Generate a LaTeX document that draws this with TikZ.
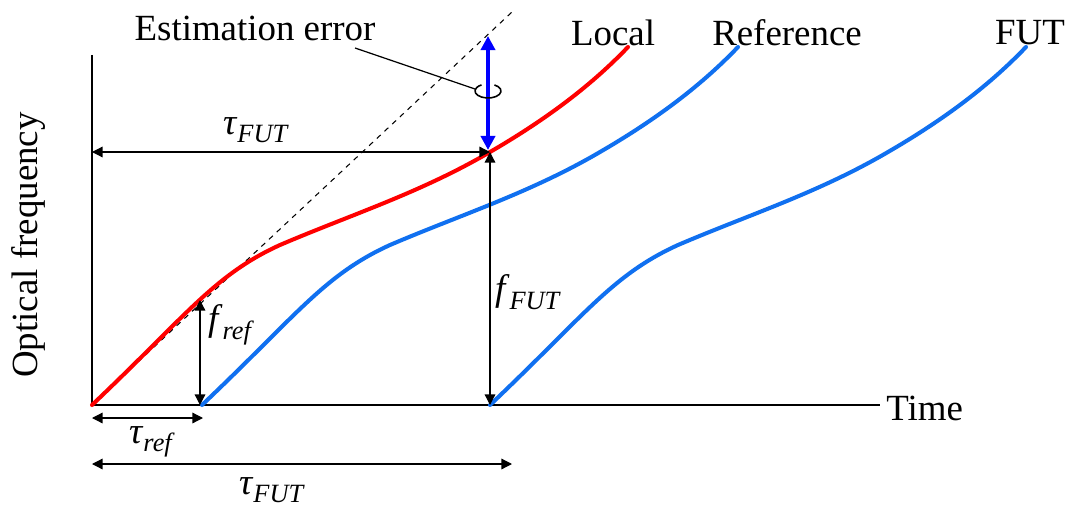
\documentclass[tikz,border=0pt]{standalone}
\usepackage{fontspec}
\setmainfont{Liberation Serif}
\usetikzlibrary{arrows.meta}
\definecolor{fred}{HTML}{FF0000}
\definecolor{fblue}{HTML}{1070F0}
\definecolor{ferr}{HTML}{0000FF}
\newcommand{\symsub}[2]{\textit{#1}\raisebox{-0.5ex}{\fontsize{15}{15}\selectfont\textit{#2}}}
% one sweep of the frequency, relative to its start
\newcommand{\sweep}{(0,0) .. controls (95,-90) and (122,-130) .. (188,-160)
  .. controls (258,-190) and (328,-212) .. (398,-253)
  .. controls (448,-282) and (496,-316) .. (536,-358)}

\begin{document}
\begin{tikzpicture}[x=0.02cm, y=-0.02cm, font=\fontsize{21}{25}\selectfont,
  axis/.style={line width=1.1pt},
  dim/.style={line width=0.7pt, {Triangle[length=6pt,width=6pt]}-{Triangle[length=6pt,width=6pt]}},
  curve/.style={line width=2.3pt, line cap=round},
  txt/.style={inner sep=0pt}]
\useasboundingbox (0,0) rectangle (1072,510);
% =================== axes ===================
\coordinate (O) at (92,405);
\coordinate (Ytop) at (92,55);
\coordinate (Xend) at (880,405);
\draw[axis] (Ytop) -- (O) -- (Xend);
\node[txt, anchor=west] (time) at (886,408) {Time};
\node[txt, rotate=90] (freq) at (28,245) {Optical frequency};
% tangent at the start
\coordinate (tanend) at (512,12);
\draw[dashed, line width=0.6pt] (O) -- (tanend);
% =================== sweeps ===================
\begin{scope}[shift={(O)}]
  \draw[curve, fred] \sweep;
\end{scope}
\begin{scope}[shift={(202,405)}]
  \draw[curve, fblue] \sweep;
\end{scope}
\begin{scope}[shift={(490,405)}]
  \draw[curve, fblue] \sweep;
\end{scope}
\node[txt] (local) at (613,33) {Local};
\node[txt] (ref) at (787,33) {Reference};
\node[txt] (fut) at (1030,33) {FUT};
% =================== delays and offsets ===================
\coordinate (Pref) at (200,300);
\coordinate (Bref) at (200,405);
\coordinate (Pfut) at (490,152);
\coordinate (Bfut) at (490,405);
\coordinate (Lfut) at (92,152);
\draw[dim] (Bref) -- (Pref);
\node[txt] (fref) at (231,325) {\symsub{f}{ref}};
\draw[dim] (Bfut) -- (Pfut);
\node[txt] (ffut) at (528,292) {\symsub{f}{FUT}};
\draw[dim] (Lfut) -- (Pfut);
\node[txt] (tfuttop) at (256,130) {\symsub{τ}{FUT}};
\coordinate (tr1) at (92,418);
\coordinate (tr2) at (203,418);
\draw[dim] (tr1) -- (tr2);
\node[txt] (tref) at (152,442) {\symsub{τ}{ref}};
\coordinate (tf1) at (92,464);
\coordinate (tf2) at (512,464);
\draw[dim] (tf1) -- (tf2);
\node[txt] (tfut) at (272,490) {\symsub{τ}{FUT}};
% =================== estimation error ===================
\coordinate (Etop) at (488,36);
\coordinate (Ebot) at (488,150);
\draw[ferr, line width=2.6pt, {Triangle[length=8pt,width=8pt]}-{Triangle[length=8pt,width=8pt]}] (Ebot) -- (Etop);
\coordinate (loop) at (488,91);
\draw[line width=0.9pt] (loop) ++(-60:13 and 7) arc[start angle=-60, end angle=240, x radius=13, y radius=7];
\node[txt] (err) at (255,28) {Estimation error};
\coordinate (lead) at (355,48);
\coordinate (loopw) at (475,89);
\draw[line width=0.7pt] (lead) -- (loopw);
\end{tikzpicture}
\end{document}
